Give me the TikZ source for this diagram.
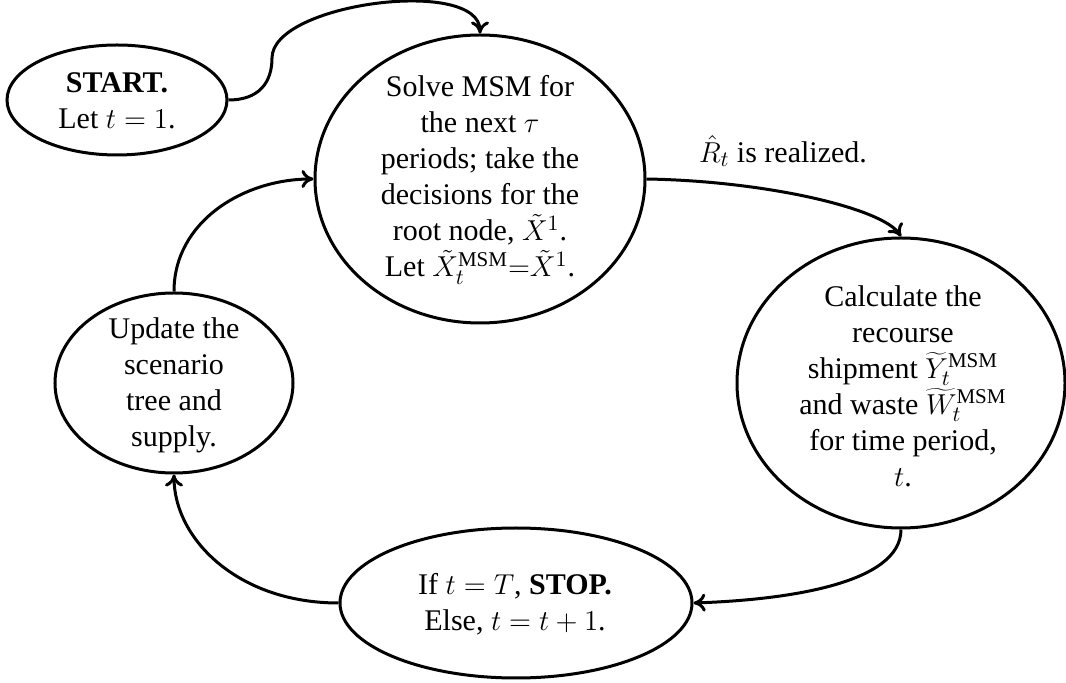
\documentclass[tikz,border=0pt]{standalone}
\usepackage{fontspec}
\setmainfont{Liberation Serif}
\usetikzlibrary{shapes.geometric,arrows.meta}
\begin{document}
\begin{tikzpicture}[x=0.5pt,y=-0.5pt,
  state/.style={draw=black,line width=1.5pt,ellipse,inner sep=0pt,outer sep=0.75pt},
  txt/.style={align=center,font=\fontsize{15pt}{18pt}\selectfont,inner sep=0pt},
  flow/.style={line width=1.5pt,-{To[length=6pt,width=9pt]}}]
\useasboundingbox (0,0) rectangle (1066,683);
\fill[white] (0,0) rectangle (1066,683);

% states of the rolling-horizon loop
\node[state,minimum width=110pt,minimum height=55pt]  (start) at (117,100) {};
\node[state,minimum width=165pt,minimum height=144pt] (msm)   at (480,179) {};
\node[state,minimum width=164pt,minimum height=145pt] (calc)  at (901,383) {};
\node[state,minimum width=176pt,minimum height=75pt]  (stop)  at (516,603) {};
\node[state,minimum width=119pt,minimum height=90pt]  (upd)   at (174,383) {};

% texts of the states
\node[txt] (startT) at (117,101) {\textbf{START.}\\ Let $t = 1$.};
\node[txt] (msmT) at (480,180) {Solve MSM for\\ the next $\tau$\\ periods; take the\\ decisions for the\\ root node, $\tilde{X}^1$.\\ Let $\tilde{X}_t^{\mathrm{MSM}}{=}\tilde{X}^1$.};
\node[txt] (calcT) at (903,386) {Calculate the\\ recourse\\ shipment $\widetilde{Y}_t^{\mathrm{MSM}}$\\ and waste $\widetilde{W}_t^{\mathrm{MSM}}$\\ for time period,\\ $t$.};
\node[txt] (updT) at (174,385) {Update the\\ scenario\\ tree and\\ supply.};
\node[txt] (stopT) at (515,604) {If $t = T$, \textbf{STOP.}\\ Else, $t = t + 1$.};
\node[txt] (real) at (783,151) {$\hat{R}_t$ is realized.};

% connectors
\coordinate (bend) at (272,58);
\draw[line width=1.5pt] (start.east) .. controls +(30,0) and +(0,25) .. (bend);
\draw[flow] (bend) .. controls +(0,-55) and +(0,-57) .. (msm.north);
\draw[flow] (msm.east) .. controls +(120,2) and +(-18,-28) .. (calc.north);
\draw[flow] (calc.south) .. controls +(0,55) and +(90,-3) .. (stop.east);
\draw[flow] (stop.west) .. controls +(-100,0) and +(0,65) .. (upd.south);
\draw[flow] (upd.north) .. controls +(0,-70) and +(-70,0) .. (msm.west);
\end{tikzpicture}
\end{document}
